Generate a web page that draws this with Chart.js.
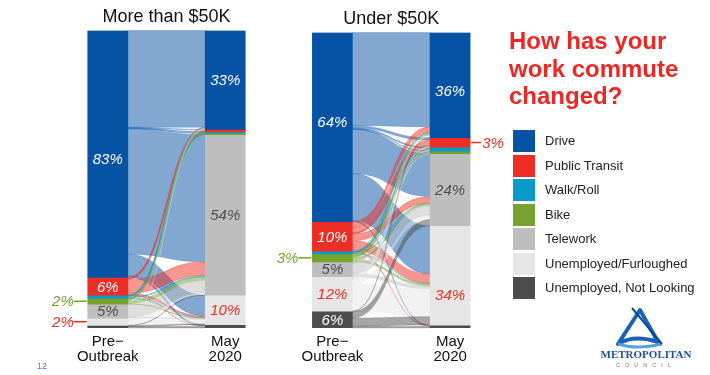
<!DOCTYPE html>
<html>
<head>
<meta charset="utf-8">
<script src="https://cdn.jsdelivr.net/npm/chart.js@4.4.1/dist/chart.umd.min.js"></script>
<style>
  html, body { margin: 0; padding: 0; background: #fff; }
  body { width: 710px; height: 375px; position: relative; overflow: hidden; font-family: "Liberation Sans", Arial, sans-serif; }
  canvas { position: absolute; top: 0; }
  #over50 { left: 0; }
  #under50 { left: 260px; }
  #headline { position: absolute; left: 509px; top: 27px; color: #ee2722; font-weight: bold; font-size: 24px; line-height: 27.5px; white-space: nowrap; }
  #legend { position: absolute; left: 513px; top: 130px; }
  .item { position: relative; height: 24.5px; }
  .swatch { position: absolute; left: 0; top: 0; width: 22px; height: 22px; }
  .item span { position: absolute; left: 32px; top: 3px; font-size: 13px; color: #222; white-space: nowrap; }
  #page { position: absolute; left: 37px; top: 361px; font-size: 9px; color: #4a7bc8; }
  #logo { position: absolute; left: 596px; top: 304px; }
</style>
</head>
<body>
<canvas id="over50" width="290" height="375"></canvas>
<canvas id="under50" width="260" height="375"></canvas>
<div id="headline">How has your<br>work commute<br>changed?</div>
<div id="legend"></div>
<div id="page">12</div>
<svg id="logo" width="100" height="70" viewBox="0 0 100 70">
  <path d="M44 6 L22 40 Q38 30 62 38 Z" fill="none" stroke="#1b62b3" stroke-width="4" stroke-linejoin="round"/>
  <path d="M22 40 Q40 46 66 40" fill="none" stroke="#5aa0d8" stroke-width="3"/>
  <path d="M36 4 L66 40" fill="none" stroke="#0d4a94" stroke-width="2"/>
  <text x="50" y="54" text-anchor="middle" font-family="Liberation Serif, serif" font-size="11" font-weight="bold" fill="#1e4f99">METROPOLITAN</text>
  <text x="50" y="63" text-anchor="middle" font-family="Liberation Sans, Arial" font-size="5.5" letter-spacing="5" fill="#777">COUNCIL</text>
</svg>
<script>
// categories, stacked top to bottom
const categories = ['Drive', 'Public Transit', 'Walk/Roll', 'Bike', 'Telework', 'Unemployed/Furloughed', 'Unemployed, Not Looking'];
const colors = ['#0652a5', '#ee2e24', '#0a9ac9', '#78a22f', '#bebebe', '#e6e6e6', '#4d4d4d'];
const periods = [['Pre\u2212', 'Outbreak'], ['May', '2020']];

// More than $50K
const over50Pre = [83, 6, 1, 2, 4.7, 2.4, 0.9];
const over50May = [33.2, 0.8, 0.4, 0.6, 54, 9.9, 1.1];
// rows = pre-outbreak mode, cols = May 2020 mode
const over50Flows = [
    [32.5, 0.2, 0.1, 0.2, 42.2, 7.3, 0.5],
    [0.1, 0.5, 0, 0.1, 4.6, 0.6, 0.1],
    [0.1, 0.05, 0.3, 0.05, 0.4, 0.1, 0],
    [0.2, 0.05, 0, 0.3, 1.2, 0.25, 0],
    [0.2, 0, 0, 0, 4.2, 0.3, 0],
    [0.1, 0, 0, 0, 0.6, 1.6, 0.1],
    [0, 0, 0, 0, 0.1, 0.3, 0.5]
];

// Under $50K
const under50Pre = [64, 10, 0.9, 2.7, 5, 11.7, 5.7];
const under50May = [35.6, 3.2, 1.3, 0.9, 24.4, 33.6, 1.0];
const under50Flows = [
    [31.5, 0.8, 0.3, 0.1, 15, 16, 0.3],
    [2.0, 1.8, 0.2, 0.2, 2.3, 3.3, 0.2],
    [0.2, 0.1, 0.3, 0.05, 0.1, 0.15, 0],
    [0.6, 0.2, 0.1, 0.4, 0.7, 0.7, 0],
    [0.3, 0.1, 0.1, 0, 3.4, 1.0, 0],
    [0.5, 0.1, 0.2, 0.1, 1.5, 9.2, 0.1],
    [0.1, 0, 0, 0, 2.2, 2.8, 0.6]
];

const RED = '#ee2e24', GREEN = '#78a22f', DARK = '#4d4d4d', WHITE = '#ffffff';

Chart.defaults.font.family = '"Liberation Sans", Arial, sans-serif';

function fade(hex, a) {
    const n = parseInt(hex.slice(1), 16);
    return `rgba(${n >> 16}, ${(n >> 8) & 255}, ${n & 255}, ${a})`;
}

function starts(vals) {
    let acc = 0;
    return vals.map(v => { const s = acc; acc += v; return s; });
}

function flowPlugin(pre, may, flows) {
    return {
        id: 'flows',
        beforeDatasetsDraw(chart) {
            const ctx = chart.ctx;
            const y = chart.scales.y;
            const [a, b] = chart.getDatasetMeta(0).data;
            const x0 = a.x + a.width / 2, x1 = b.x - b.width / 2, xm = (x0 + x1) / 2;
            const rowSum = flows.map(r => r.reduce((s, v) => s + v, 0));
            const colSum = may.map((_, j) => flows.reduce((s, r) => s + r[j], 0));
            const src = starts(pre), tgt = starts(may);
            ctx.save();
            flows.forEach((row, i) => {
                row.forEach((f, j) => {
                    if (!f) return;
                    const s0 = y.getPixelForValue(src[i]);
                    src[i] += f * pre[i] / rowSum[i];
                    const s1 = y.getPixelForValue(src[i]);
                    const t0 = y.getPixelForValue(tgt[j]);
                    tgt[j] += f * may[j] / colSum[j];
                    const t1 = y.getPixelForValue(tgt[j]);
                    ctx.beginPath();
                    ctx.moveTo(x0, s0);
                    ctx.bezierCurveTo(xm, s0, xm, t0, x1, t0);
                    ctx.lineTo(x1, t1);
                    ctx.bezierCurveTo(xm, t1, xm, s1, x0, s1);
                    ctx.closePath();
                    ctx.fillStyle = fade(colors[i], 0.5);
                    ctx.fill();
                    ctx.strokeStyle = fade(colors[i], 0.4);
                    ctx.lineWidth = 0.6;
                    ctx.stroke();
                });
            });
            ctx.restore();
        }
    };
}

function labelPlugin(columns, specs) {
    return {
        id: 'pctLabels',
        afterDatasetsDraw(chart) {
            const ctx = chart.ctx;
            const y = chart.scales.y;
            const bars = chart.getDatasetMeta(0).data;
            ctx.save();
            ctx.font = 'italic 15px "Liberation Sans", Arial, sans-serif';
            ctx.textBaseline = 'middle';
            specs.forEach(sp => {
                const vals = columns[sp.c];
                const st = starts(vals)[sp.s];
                const v = vals[sp.s];
                const yy = y.getPixelForValue(st + v * (sp.at ?? 0.5));
                const bar = bars[sp.c];
                const text = Math.round(v) + '%';
                ctx.fillStyle = sp.color;
                ctx.strokeStyle = sp.color;
                ctx.lineWidth = 1.5;
                if (sp.side === 'left') {
                    const edge = bar.x - bar.width / 2;
                    ctx.beginPath(); ctx.moveTo(edge - 1, yy); ctx.lineTo(edge - 14, yy); ctx.stroke();
                    ctx.textAlign = 'right';
                    ctx.fillText(text, edge - 14, yy + 1);
                } else if (sp.side === 'right') {
                    const edge = bar.x + bar.width / 2;
                    ctx.beginPath(); ctx.moveTo(edge + 1, yy); ctx.lineTo(edge + 11, yy); ctx.stroke();
                    ctx.textAlign = 'left';
                    ctx.fillText(text, edge + 12, yy + 1);
                } else {
                    ctx.textAlign = 'center';
                    ctx.fillText(text, bar.x, yy + 1);
                }
            });
            ctx.restore();
        }
    };
}

function drawPanel(id, title, pre, may, flows, specs, padding) {
    const ctx = document.getElementById(id).getContext('2d');
    return new Chart(ctx, {
        type: 'bar',
        data: {
            labels: periods,
            datasets: categories.map((c, k) => ({
                label: c,
                data: [pre[k], may[k]],
                backgroundColor: colors[k],
                borderWidth: 0,
                barThickness: 40
            }))
        },
        options: {
            responsive: false,
            animation: false,
            devicePixelRatio: 1,
            layout: { padding },
            scales: {
                x: {
                    stacked: true,
                    grid: { display: false, drawTicks: false },
                    border: { display: false },
                    ticks: { color: '#111', font: { size: 15, lineHeight: 1.0 }, padding: 6, maxRotation: 0, autoSkip: false }
                },
                y: { stacked: true, reverse: true, min: 0, max: 100, display: false }
            },
            plugins: {
                legend: { display: false },
                tooltip: { enabled: false },
                title: {
                    display: true,
                    text: title,
                    color: '#111',
                    font: { size: 18, weight: 'normal' },
                    padding: { top: 6, bottom: 3 }
                }
            }
        },
        plugins: [flowPlugin(pre, may, flows), labelPlugin([pre, may], specs)]
    });
}

drawPanel('over50', 'More than $50K', over50Pre, over50May, over50Flows, [
    { c: 0, s: 0, color: WHITE, at: 0.52 },
    { c: 0, s: 1, color: WHITE },
    { c: 0, s: 3, color: GREEN, side: 'left' },
    { c: 0, s: 4, color: DARK },
    { c: 0, s: 5, color: RED, side: 'left' },
    { c: 1, s: 0, color: WHITE },
    { c: 1, s: 4, color: DARK },
    { c: 1, s: 5, color: RED }
], { left: 49, right: 6, top: 0, bottom: 5 });

drawPanel('under50', 'Under $50K', under50Pre, under50May, under50Flows, [
    { c: 0, s: 0, color: WHITE, at: 0.47 },
    { c: 0, s: 1, color: WHITE },
    { c: 0, s: 3, color: GREEN, side: 'left' },
    { c: 0, s: 4, color: DARK },
    { c: 0, s: 5, color: RED },
    { c: 0, s: 6, color: WHITE },
    { c: 1, s: 0, color: WHITE, at: 0.55 },
    { c: 1, s: 1, color: RED, side: 'right' },
    { c: 1, s: 4, color: DARK },
    { c: 1, s: 5, color: RED, at: 0.7 }
], { left: 13.5, right: 11, top: 2, bottom: 5 });

// legend
const legend = document.getElementById('legend');
categories.forEach((c, k) => {
    const item = document.createElement('div');
    item.className = 'item';
    item.innerHTML = `<div class="swatch" style="background:${colors[k]}"></div><span>${c}</span>`;
    legend.appendChild(item);
});
</script>
</body>
</html>
